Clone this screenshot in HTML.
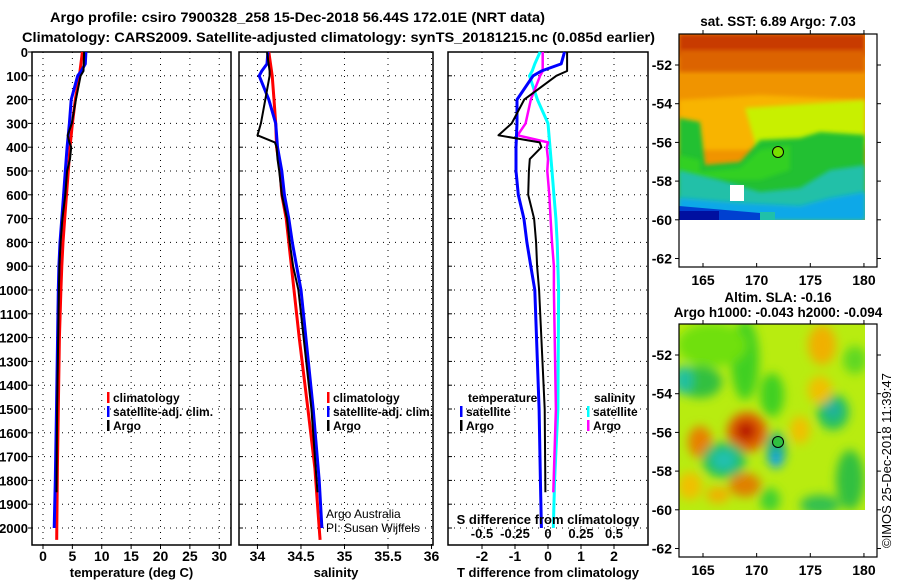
<!DOCTYPE html>
<html><head><meta charset="utf-8"><style>
body{margin:0;background:#fff;}
svg{display:block;font-family:"Liberation Sans",sans-serif;}
.b{font-weight:bold;font-size:13px;fill:#000;}
.x{font-weight:bold;font-size:14px;fill:#000;}
.t{font-weight:bold;font-size:12px;fill:#000;}
</style></head><body>
<svg id="fig" width="900" height="580" viewBox="0 0 900 580">
<defs>
<filter id="bl"><feGaussianBlur stdDeviation="2"/></filter>
<filter id="bl2"><feGaussianBlur stdDeviation="5"/></filter>
<clipPath id="c1"><rect x="679" y="34" width="186" height="186"/></clipPath>
<clipPath id="c2"><rect x="679" y="324" width="186" height="186"/></clipPath>
</defs>
<text class="b" x="50" y="22" textLength="495" lengthAdjust="spacingAndGlyphs" style="font-size:14px">Argo profile: csiro 7900328_258 15-Dec-2018 56.44S 172.01E (NRT data)</text>
<text class="b" x="22" y="42" textLength="633" lengthAdjust="spacingAndGlyphs" style="font-size:14px">Climatology: CARS2009. Satellite-adjusted climatology: synTS_20181215.nc (0.085d earlier)</text>
<g id="plots"></g>
<!-- SST map -->
<g>
<text class="b" x="778" y="26" text-anchor="middle" style="font-size:13.5px">sat. SST: 6.89 Argo: 7.03</text>
<g clip-path="url(#c1)">
<rect x="679" y="34" width="186" height="186" fill="#f09400"/>
<rect x="679" y="34" width="186" height="22" fill="#c83a00" filter="url(#bl)"/>
<rect x="679" y="50" width="186" height="22" fill="#dc6400" filter="url(#bl)"/>
<polygon points="679,100 760,95 865,100 865,150 679,150" fill="#f8b400" filter="url(#bl)"/>
<polygon points="745,108 865,100 865,145 760,160" fill="#c8f000" filter="url(#bl)"/>
<polygon points="679,118 700,122 705,165 740,162 760,140 800,138 820,132 865,135 865,220 679,220" fill="#20c030" filter="url(#bl)"/>
<polygon points="679,155 700,160 700,172 740,168 760,150 790,145 790,170 760,180 679,180" fill="#30d020" filter="url(#bl)"/>
<polygon points="679,170 720,180 760,192 800,188 830,170 865,165 865,220 679,220" fill="#20c0a8" filter="url(#bl)"/>
<polygon points="679,198 740,203 800,206 830,198 865,192 865,220 679,220" fill="#10a8e8" filter="url(#bl)"/>
<polygon points="679,206 760,213 760,220 679,220" fill="#0040d0"/>
<rect x="679" y="211" width="40" height="9" fill="#0010a0"/>
<rect x="730" y="185" width="14" height="16" fill="#fff"/>
<rect x="760" y="212" width="15" height="8" fill="#20c0a8"/>
</g>
<circle cx="778" cy="152" r="5.5" fill="#78e000" stroke="#000" stroke-width="1"/>
<rect x="679" y="34" width="198" height="233" fill="none" stroke="#000" stroke-width="1.2"/>
</g>
<!-- SLA map -->
<g>
<text class="b" x="778" y="302" text-anchor="middle" style="font-size:13.5px">Altim. SLA: -0.16</text>
<text class="b" x="778" y="317" text-anchor="middle" style="font-size:13.5px">Argo h1000: -0.043 h2000: -0.094</text>
<g clip-path="url(#c2)">
<rect x="679" y="324" width="186" height="186" fill="#b8ec10"/>
<g filter="url(#bl2)">
<ellipse cx="745" cy="360" rx="14" ry="40" fill="#40d020"/>
<ellipse cx="712" cy="345" rx="35" ry="22" fill="#70e010"/>
<ellipse cx="772" cy="395" rx="12" ry="22" fill="#40d020"/>
<ellipse cx="700" cy="382" rx="22" ry="16" fill="#30c040"/>
<ellipse cx="683" cy="380" rx="10" ry="14" fill="#20c0a0"/>
<ellipse cx="747" cy="432" rx="20" ry="20" fill="#e06000"/>
<ellipse cx="746" cy="431" rx="10" ry="10" fill="#b81800"/>
<ellipse cx="700" cy="442" rx="12" ry="16" fill="#e88000"/>
<ellipse cx="724" cy="460" rx="22" ry="18" fill="#20c060"/>
<ellipse cx="724" cy="460" rx="12" ry="10" fill="#20c0b0"/>
<ellipse cx="776" cy="450" rx="10" ry="18" fill="#20b080"/>
<ellipse cx="776" cy="460" rx="6" ry="8" fill="#10a0f0"/>
<ellipse cx="833" cy="412" rx="16" ry="18" fill="#20c060"/>
<ellipse cx="833" cy="410" rx="8" ry="8" fill="#20b0a0"/>
<ellipse cx="822" cy="345" rx="14" ry="20" fill="#f0b000"/>
<ellipse cx="820" cy="390" rx="12" ry="14" fill="#f0c000"/>
<ellipse cx="800" cy="430" rx="10" ry="14" fill="#f0c000"/>
<ellipse cx="745" cy="485" rx="16" ry="12" fill="#e08000"/>
<ellipse cx="718" cy="495" rx="12" ry="8" fill="#f0b000"/>
<ellipse cx="690" cy="486" rx="12" ry="14" fill="#f0c000"/>
<ellipse cx="850" cy="480" rx="14" ry="30" fill="#30c040"/>
<ellipse cx="770" cy="500" rx="10" ry="12" fill="#40d030"/>
<ellipse cx="820" cy="505" rx="20" ry="10" fill="#30c050"/>
<ellipse cx="855" cy="360" rx="12" ry="14" fill="#60d820"/>
</g>
</g>
<circle cx="778" cy="442" r="5.5" fill="#30c040" stroke="#000" stroke-width="1"/>
<rect x="679" y="324" width="198" height="233" fill="none" stroke="#000" stroke-width="1.2"/>
</g>
<text x="891" y="548" transform="rotate(-90 891 548)" style="font-size:13px">©IMOS 25-Dec-2018 11:39:47</text>
</svg>
<script>
// depths for profiles (m)
const depthClim=[0,100,200,300,400,500,600,700,800,900,1000,1200,1500,1750,2000,2050];
const tempClim=[6.7,6.2,5.5,5.0,4.6,4.3,4.0,3.7,3.4,3.2,3.05,2.8,2.6,2.45,2.35,2.33];
const depthSat=[0,50,80,100,200,300,400,500,600,700,800,900,1000,1500,1800,2000];
const tempSat=[7.3,7.2,6.5,5.9,4.8,4.5,4.1,3.8,3.5,3.2,2.9,2.7,2.6,2.3,2.1,1.9];
const depthArgo=[0,80,100,200,300,350,380,400,450,500,600,700,800,900,1000,1500,1850];
const tempArgo=[7.0,6.9,6.4,5.6,4.9,4.2,4.5,4.8,4.6,4.1,3.8,3.3,3.0,2.8,2.7,2.4,2.3];
const salClim=[34.13,34.17,34.19,34.21,34.22,34.26,34.28,34.33,34.36,34.39,34.42,34.48,34.58,34.66,34.71,34.72];
const salSat=[34.12,34.11,34.05,34.02,34.13,34.21,34.23,34.28,34.31,34.36,34.40,34.45,34.50,34.64,34.71,34.74];
const salArgo=[34.11,34.14,34.14,34.09,34.04,34.0,34.20,34.22,34.23,34.25,34.28,34.34,34.37,34.41,34.47,34.62,34.69];
const tDiffSat=[0.5,0.4,-0.2,-0.45,-0.94,-0.94,-0.97,-0.97,-0.9,-0.73,-0.64,-0.52,-0.4,-0.27,-0.23,-0.2];
const tDiffArgo=[0.58,0.58,0.25,-0.72,-1.1,-1.5,-0.25,-0.2,-0.55,-0.58,-0.6,-0.42,-0.36,-0.33,-0.27,-0.1,-0.08];
const sDiffSat=[-0.06,-0.1,-0.12,-0.14,-0.08,0.0,0.015,0.03,0.045,0.06,0.07,0.075,0.08,0.075,0.05,0.04];
const sDiffArgo=[-0.04,-0.04,-0.06,-0.13,-0.17,-0.23,0.0,-0.01,0.0,-0.005,0.01,0.02,0.03,0.045,0.045,0.06,0.04];
const depthTicks=[0,100,200,300,400,500,600,700,800,900,1000,1100,1200,1300,1400,1500,1600,1700,1800,1900,2000];
const tTicks=[0,5,10,15,20,25,30];
const sTicks=[34,34.5,35,35.5,36];
const dTicks=[-2,-1,0,1,2];
const sdTicks=[-0.5,-0.25,0,0.25,0.5];
const sdLabels=["-0.5","-0.25","0","0.25","0.5"];

const NS="http://www.w3.org/2000/svg";
const G=document.getElementById('plots');
const yD=d=>52+d*0.238;
function el(tag,attrs,parent){const e=document.createElementNS(NS,tag);for(const k in attrs)e.setAttribute(k,attrs[k]);(parent||G).appendChild(e);return e;}
function txt(x,y,s,cls,anchor,parent){const e=el('text',{x:x,y:y,class:cls,'text-anchor':anchor||'start'},parent);e.textContent=s;return e;}

const panels=[
 {name:'temperature-panel',x0:32,x1:231,v0:-1.87,v1:32.0,ticks:tTicks,labels:tTicks.map(String),grid:tTicks,title:'temperature (deg C)',yl:true},
 {name:'salinity-panel',x0:239,x1:433,v0:33.788,v1:36.017,ticks:sTicks,labels:['34','34.5','35','35.5','36'],grid:sTicks,title:'salinity'},
 {name:'difference-panel',x0:448,x1:648,v0:-3.03,v1:3.03,ticks:dTicks,labels:dTicks.map(String),grid:dTicks,title:'T difference from climatology'}
];
panels.forEach(p=>{p.sx=v=>p.x0+(v-p.v0)/(p.v1-p.v0)*(p.x1-p.x0);});
panels.forEach((p,i)=>{
 const g=el('g',{});
 
 
 depthTicks.forEach(d=>{
  el('line',{x1:p.x0,x2:p.x1,y1:yD(d),y2:yD(d),stroke:'#000','stroke-width':1,'stroke-dasharray':'1 5'},g);
  el('line',{x1:p.x0-(i==0?4:0),x2:p.x0+(i==0?0:4),y1:yD(d),y2:yD(d),stroke:'#000','stroke-width':1},g);
  if(p.yl){const t=txt(28,yD(d)+5,String(d),'b','end',g);}
 });
 p.grid.forEach(v=>{el('line',{x1:p.sx(v),x2:p.sx(v),y1:52,y2:545,stroke:'#000','stroke-width':1,'stroke-dasharray':'1 5'},g);});
 p.ticks.forEach((v,k)=>{
  el('line',{x1:p.sx(v),x2:p.sx(v),y1:545,y2:549,stroke:'#000'},g);
  const t=txt(p.sx(v),561,p.labels[k],'x','middle',g);
  
  
 });
 el('rect',{x:p.x0,y:52,width:p.x1-p.x0,height:493,fill:'none',stroke:'#000','stroke-width':1.5},g);
 const tt=txt((p.x0+p.x1)/2,577,p.title,'b','middle',g);
 
 
 p.g=g;
});
function line(p,xs,ds,color,w,name){
 const pts=xs.map((v,k)=>p.sx(v).toFixed(1)+','+yD(ds[k]).toFixed(1)).join(' ');
 const e=el('polyline',{points:pts,fill:'none',stroke:color,'stroke-width':w,'stroke-linejoin':'round'},p.g);
 
 
}
const [P1,P2,P3]=panels;
line(P1,tempClim,depthClim,'#f00',3,'temp-climatology-line');
line(P1,tempSat,depthSat,'#00f',3,'temp-satellite-line');
line(P1,tempArgo,depthArgo,'#000',2,'temp-argo-line');
line(P2,salClim,depthClim,'#f00',3,'sal-climatology-line');
line(P2,salSat,depthSat,'#00f',3,'sal-satellite-line');
line(P2,salArgo,depthArgo,'#000',2,'sal-argo-line');
// salinity differences use S scale (0.5 psu per 2 deg)
const sdx=P3.v0/4, sdy=P3.v1/4;
const P3s={sx:v=>P3.x0+(v-sdx)/(sdy-sdx)*(P3.x1-P3.x0),g:P3.g};
line(P3s,sDiffSat,depthSat,'#0ff',3,'sal-diff-satellite-line');
line(P3s,sDiffArgo,depthArgo,'#f0f',2.5,'sal-diff-argo-line');
line(P3,tDiffSat,depthSat,'#00f',3,'temp-diff-satellite-line');
line(P3,tDiffArgo,depthArgo,'#000',2,'temp-diff-argo-line');
// S-diff axis labels
sdTicks.forEach((v,k)=>{
 const t=txt(P3s.sx(v),538,sdLabels[k],'b','middle',P3.g);
 
 
});
const st=txt(548,524,'S difference from climatology','b','middle',P3.g);


// legends
function legend(x,y,color,label,name,parent){
 const g=el('g',{},parent);
 
 
 el('rect',{x:x,y:y-10,width:2.5,height:11,fill:color},g);
 txt(x+6,y,label,'t','start',g);
}
[[P1,107],[P2,327]].forEach(([p,x])=>{
 legend(x,402,'#f00','climatology','legend-climatology',p.g);
 legend(x,416,'#00f','satellite-adj. clim.','legend-satellite',p.g);
 legend(x,430,'#000','Argo','legend-argo',p.g);
});
const l0=txt(468,402,'temperature','t','start',P3.g);


legend(460,416,'#00f','satellite','legend-t-satellite',P3.g);
legend(460,430,'#000','Argo','legend-t-argo',P3.g);
const l1=txt(594,402,'salinity','t','start',P3.g);


legend(587,416,'#0ff','satellite','legend-s-satellite',P3.g);
legend(587,430,'#f0f','Argo','legend-s-argo',P3.g);
const c1=txt(326,518,'Argo Australia','','start',P2.g);c1.setAttribute('style','font-size:12px');


const c2=txt(326,532,'PI: Susan Wijffels','','start',P2.g);c2.setAttribute('style','font-size:12px');


// map axes
const lonTicks=[165,170,175,180];
const latTicks=[-52,-54,-56,-58,-60,-62];
const svg=document.getElementById('fig');
[[0,'sst'],[290,'sla']].forEach(([off,nm])=>{
 const g=el('g',{},svg);
 
 
 lonTicks.forEach(l=>{const x=703+(l-165)*10.73;
  el('line',{x1:x,x2:x,y1:267+off,y2:263+off,stroke:'#000'},g);
  el('line',{x1:x,x2:x,y1:34+off,y2:30+off,stroke:'#000'},g);
  const t=txt(x,285+off,String(l),'x','middle',g);
  
  
 });
 latTicks.forEach(l=>{const y=65+off+(-52-l)*19.35;
  el('line',{x1:877,x2:881,y1:y,y2:y,stroke:'#000'},g);
  el('line',{x1:679,x2:675,y1:y,y2:y,stroke:'#000'},g);
  const t=txt(672,y+5,String(l),'x','end',g);
  
  
 });
});
</script>
</body></html>
